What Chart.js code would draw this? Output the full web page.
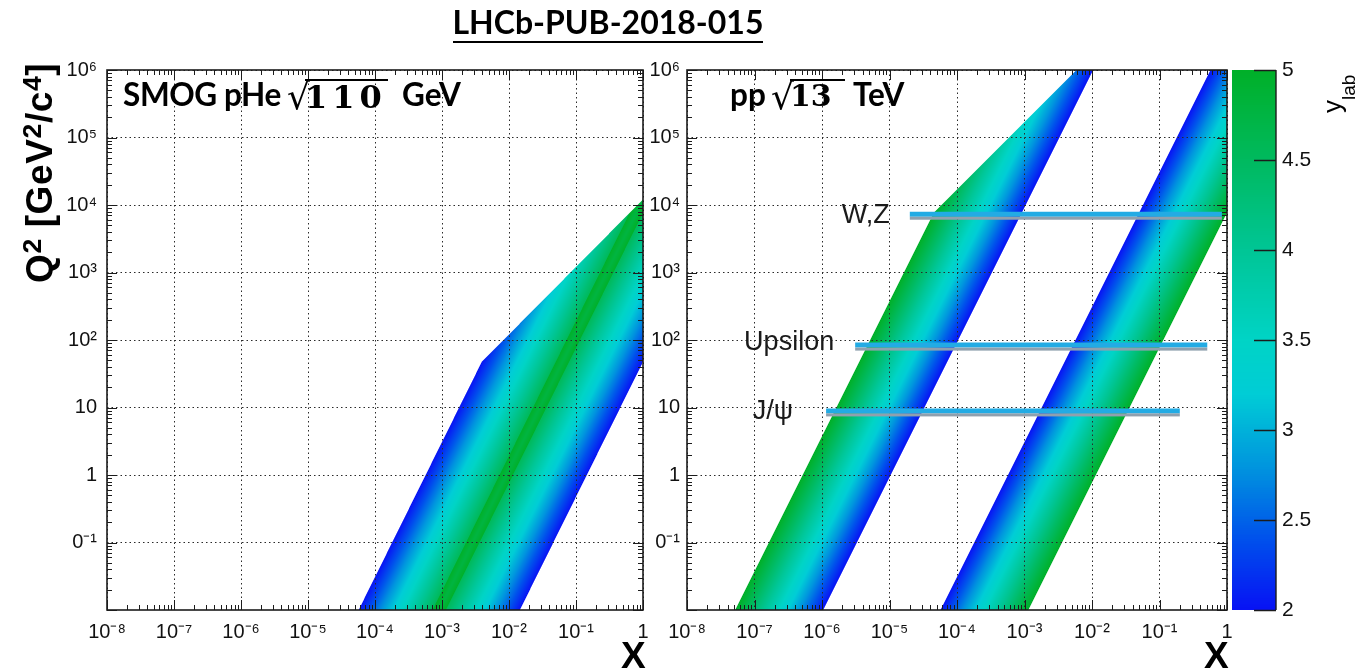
<!DOCTYPE html>
<html><head><meta charset="utf-8">
<script src="https://cdn.jsdelivr.net/npm/chart.js@4.4.1/dist/chart.umd.min.js"></script>
<style>
html,body{margin:0;padding:0;background:#fff;}
#wrap{position:relative;width:1358px;height:669px;overflow:hidden;background:#fff;}
canvas{position:absolute;left:0;top:0;}
.t{position:absolute;white-space:nowrap;line-height:1;color:#000;}
.lb{font-family:Lato,"Open Sans",sans-serif;font-weight:bold;font-size:31.5px;}
.sq{font-family:"DejaVu Sans",sans-serif;font-size:36px;}
.dg{font-family:"DejaVu Serif",serif;font-weight:bold;border-top:2px solid #000;}
.rot{transform-origin:0 0;transform:rotate(-90deg);}
.sup{position:relative;top:-0.42em;font-size:0.72em;}
</style></head><body>
<div id="wrap">
<canvas id="c1" width="1358" height="669"></canvas>
<canvas id="c2" width="1358" height="669"></canvas>
<canvas id="c3" width="1358" height="669"></canvas>

<div class="t" style="left:0;width:1216px;text-align:center;top:5.6px;"><span style="font-family:Lato,sans-serif;font-weight:bold;font-size:32px;border-bottom:2px solid #000;">LHCb-PUB-2018-015</span></div>

<div class="t lb" style="left:123px;top:79px;letter-spacing:-0.4px;">SMOG pHe</div>
<div class="t sq" style="left:287px;top:78.5px;">√</div>
<div class="t dg" style="left:305px;top:79px;font-size:32px;letter-spacing:5px;padding-right:1px;">110</div>
<div class="t lb" style="left:402px;top:79px;">GeV</div>

<div class="t lb" style="left:730px;top:79px;">pp</div>
<div class="t sq" style="left:771px;top:78.5px;">√</div>
<div class="t dg" style="left:790px;top:79px;font-size:30px;padding-right:13px;">13</div>
<div class="t lb" style="left:853px;top:79px;">TeV</div>

<div class="t rot" style="left:21px;top:283px;font-family:'Liberation Sans',Arial,sans-serif;font-weight:bold;font-size:37px;letter-spacing:0.6px;">Q<span class="sup">2</span> [GeV<span class="sup">2</span>/c<span class="sup">4</span>]</div>

<div class="t" style="left:621px;top:637px;font-family:'Liberation Sans',Arial,sans-serif;font-weight:bold;font-size:37px;">X</div>
<div class="t" style="left:1204px;top:637px;font-family:'Liberation Sans',Arial,sans-serif;font-weight:bold;font-size:37px;">X</div>

<div class="t rot" style="left:1318.5px;top:113px;font-family:'Liberation Sans',Arial,sans-serif;font-size:26px;">y<span style="position:relative;top:14px;font-size:19px;">lab</span></div>
</div>
<script>
// ---------------- data ----------------
const panelNames = ['SMOG pHe', 'pp'];
const sqrtS = [110, 13000];            // GeV, from the panel labels
const rapidityShift = [4.77, 0];       // y_lab - y_cm
const yLabRange = [2, 5];              // LHCb acceptance (colour scale)
const xRange = [1e-8, 1];
const q2Range = [1e-2, 1e6];
const xTickValues = [1e-8, 1e-7, 1e-6, 1e-5, 1e-4, 1e-3, 1e-2, 1e-1, 1];
const xTickLabels = ['10⁻⁸', '10⁻⁷', '10⁻⁶', '10⁻⁵', '10⁻⁴', '10⁻³', '10⁻²', '10⁻¹', '1'];
const q2TickValues = [1e-1, 1, 10, 1e2, 1e3, 1e4, 1e5, 1e6];
const q2TickLabels = ['0⁻¹', '1', '10', '10²', '10³', '10⁴', '10⁵', '10⁶'];
const markerNames = ['W,Z', 'Upsilon', 'J/ψ'];
const markerQ2 = [7300, 84, 8.9];
const markerXFrom = [2.0e-5, 3.1e-6, 1.15e-6];
const markerXTo = [0.84, 0.51, 0.20];
const colorbarTicks = [2, 2.5, 3, 3.5, 4, 4.5, 5];
const colorbarLabels = ['2', '2.5', '3', '3.5', '4', '4.5', '5'];

// ---------------- styles ----------------
const paletteStops = [
  [2.0, [8, 18, 245]], [2.4, [0, 82, 236]], [2.8, [0, 150, 222]], [3.2, [0, 205, 214]],
  [3.5, [0, 212, 198]], [4.0, [0, 198, 150]], [4.5, [0, 186, 95]], [5.0, [0, 176, 40]]
];
const labelGap = [20, 21, 33];
const labelDy = [9, 5, 8];
const FONT = '"Liberation Sans", Arial, Helvetica, sans-serif';

const LUT = [];
for (let t = 0; t <= 300; t++) {
  const v = 2 + t / 100;
  let k = 0;
  while (k < paletteStops.length - 2 && v > paletteStops[k + 1][0]) k++;
  const [v0, c0] = paletteStops[k], [v1, c1] = paletteStops[k + 1];
  const f = Math.max(0, Math.min(1, (v - v0) / (v1 - v0)));
  LUT.push([0, 1, 2].map(i => c0[i] + (c1[i] - c0[i]) * f));
}
function palette(v) {
  const t = Math.max(0, Math.min(300, Math.round((v - 2) * 100)));
  return LUT[t];
}

// band (heat map) drawn pixel by pixel through the chart scales
const bandPlugin = {
  id: 'band',
  beforeDraw(chart, args, opts) {
    const p = opts.panel;
    if (p === undefined || p === null) return;
    const a = chart.chartArea, xs = chart.scales.x, ys = chart.scales.y;
    const W = Math.round(a.right - a.left), H = Math.round(a.bottom - a.top);
    const off = document.createElement('canvas'); off.width = W; off.height = H;
    const octx = off.getContext('2d');
    const img = octx.createImageData(W, H); const d = img.data;
    const S = 3;
    const lnX = new Float64Array(W * S), lnQ2 = new Float64Array(H * S);
    for (let i = 0; i < W * S; i++) lnX[i] = Math.log(xs.getValueForPixel(a.left + (i + 0.5) / S));
    for (let j = 0; j < H * S; j++) lnQ2[j] = Math.log(ys.getValueForPixel(a.top + (j + 0.5) / S));
    const lnRs = Math.log(sqrtS[p]), lnS = 2 * lnRs, sh = rapidityShift[p];
    const lo = yLabRange[0], hi = yLabRange[1];
    for (let j = 0; j < H; j++) {
      for (let i = 0; i < W; i++) {
        let r = 0, g = 0, b = 0, n = 0;
        for (let sj = 0; sj < S; sj++) {
          const lq = lnQ2[j * S + sj];
          for (let si = 0; si < S; si++) {
            const lx = lnX[i * S + si];
            if (lq > lx + lnS) continue;        // partner x would exceed 1
            const L = lx + lnRs - 0.5 * lq;
            let yl = -1;
            const y1 = sh + L, y2 = sh - L;
            if (y1 >= lo && y1 <= hi) yl = y1;
            if (y2 >= lo && y2 <= hi && y2 > yl) yl = y2;
            if (yl < 0) continue;
            const c = palette(yl);
            r += c[0]; g += c[1]; b += c[2]; n++;
          }
        }
        if (n) {
          const k = (j * W + i) * 4;
          d[k] = r / n; d[k + 1] = g / n; d[k + 2] = b / n; d[k + 3] = 255 * n / (S * S);
        }
      }
    }
    octx.putImageData(img, 0, 0);
    chart.ctx.drawImage(off, a.left, a.top);
  }
};

// frame + ROOT style inward ticks on all four sides
const axisPlugin = {
  id: 'axisDeco',
  afterDraw(chart, args, opts) {
    if (!opts.on) return;
    const ctx = chart.ctx, a = chart.chartArea, xs = chart.scales.x, ys = chart.scales.y;
    ctx.save();
    ctx.strokeStyle = '#1c1c1c'; ctx.lineWidth = 1;
    ctx.beginPath();
    const e0 = Math.floor(Math.log10(xs.min)), e1 = Math.ceil(Math.log10(xs.max));
    for (let e = e0; e <= e1; e++) for (let k = 1; k < 10; k++) {
      const v = k * Math.pow(10, e);
      if (v < xs.min * 0.999 || v > xs.max * 1.001) continue;
      const px = Math.round(xs.getPixelForValue(v)) + 0.5, len = k === 1 ? 10 : 5;
      ctx.moveTo(px, a.bottom); ctx.lineTo(px, a.bottom - len);
      ctx.moveTo(px, a.top); ctx.lineTo(px, a.top + len);
    }
    const f0 = Math.floor(Math.log10(ys.min)), f1 = Math.ceil(Math.log10(ys.max));
    for (let e = f0; e <= f1; e++) for (let k = 1; k < 10; k++) {
      const v = k * Math.pow(10, e);
      if (v < ys.min * 0.999 || v > ys.max * 1.001) continue;
      const py = Math.round(ys.getPixelForValue(v)) + 0.5, len = k === 1 ? 10 : 5;
      ctx.moveTo(a.left, py); ctx.lineTo(a.left + len, py);
      ctx.moveTo(a.right, py); ctx.lineTo(a.right - len, py);
    }
    ctx.stroke();
    ctx.lineWidth = 1.6;
    ctx.strokeRect(a.left, a.top, a.right - a.left, a.bottom - a.top);
    ctx.restore();
  }
};

// meson mass bars: grey underline + name
const markerPlugin = {
  id: 'markers',
  afterDatasetsDraw(chart, args, opts) {
    if (!opts.on) return;
    const ctx = chart.ctx;
    ctx.save();
    chart.data.datasets.forEach((ds, i) => {
      const m = chart.getDatasetMeta(i);
      const p0 = m.data[0], p1 = m.data[1];
      ctx.fillStyle = '#8fa0ae';
      ctx.fillRect(p0.x, p0.y + 2.5, p1.x - p0.x, 3);
      ctx.font = '27px ' + FONT;
      ctx.fillStyle = '#1a1a1a'; ctx.textAlign = 'right'; ctx.textBaseline = 'alphabetic';
      ctx.fillText(ds.label, p0.x - labelGap[i], p0.y + labelDy[i]);
    });
    ctx.restore();
  }
};

// colour bar
const colorbarPlugin = {
  id: 'cbar',
  beforeDraw(chart, args, opts) {
    if (!opts.on) return;
    const ctx = chart.ctx, a = chart.chartArea, ys = chart.scales.y;
    for (let py = Math.floor(a.top); py < Math.ceil(a.bottom); py++) {
      const c = palette(ys.getValueForPixel(py + 0.5));
      ctx.fillStyle = `rgb(${c[0] | 0},${c[1] | 0},${c[2] | 0})`;
      ctx.fillRect(a.left, py, a.right - a.left, 1);
    }
  },
  afterDraw(chart, args, opts) {
    if (!opts.on) return;
    const ctx = chart.ctx, a = chart.chartArea, ys = chart.scales.y;
    ctx.save();
    ctx.strokeStyle = '#1c1c1c'; ctx.lineWidth = 1.4;
    ctx.beginPath();
    colorbarTicks.forEach(v => {
      const py = Math.round(ys.getPixelForValue(v)) + 0.5;
      ctx.moveTo(a.right - 22, py); ctx.lineTo(a.right, py);
    });
    ctx.moveTo(a.right, a.top); ctx.lineTo(a.right, a.bottom);
    ctx.stroke();
    ctx.restore();
  }
};

function panelScales(yLabelPad) {
  return {
    x: {
      type: 'logarithmic', min: xRange[0], max: xRange[1], position: 'bottom',
      afterBuildTicks: s => { s.ticks = xTickValues.map(v => ({ value: v })); },
      afterFit: s => { s.height = 59; },
      ticks: { callback: (v, i) => xTickLabels[i], autoSkip: false, maxRotation: 0, minRotation: 0,
               font: { family: FONT, size: 20 }, color: '#111', padding: 10 },
      grid: { color: '#2a2a2a', lineWidth: 1, drawTicks: false },
      border: { display: false, dash: [1.5, 3] }
    },
    y: {
      type: 'logarithmic', min: q2Range[0], max: q2Range[1], position: 'left',
      afterBuildTicks: s => { s.ticks = q2TickValues.map(v => ({ value: v })); },
      afterFit: s => { s.width = yLabelPad.width; },
      ticks: { callback: (v, i) => q2TickLabels[i], autoSkip: false,
               font: { family: FONT, size: 20 }, color: '#111', padding: yLabelPad.pad },
      grid: { color: '#2a2a2a', lineWidth: 1, drawTicks: false },
      border: { display: false, dash: [1.5, 3] }
    }
  };
}

const common = { responsive: false, animation: false, devicePixelRatio: 1, events: [] };

new Chart(document.getElementById('c1'), {
  type: 'scatter',
  data: { datasets: [] },
  options: Object.assign({}, common, {
    layout: { padding: { left: 0, right: 1358 - 643, top: 70, bottom: 0 } },
    scales: panelScales({ width: 107, pad: 10 }),
    plugins: { legend: { display: false }, tooltip: { enabled: false },
               band: { panel: 0 }, axisDeco: { on: true }, markers: { on: false }, cbar: { on: false } }
  }),
  plugins: [bandPlugin, axisPlugin]
});

new Chart(document.getElementById('c2'), {
  type: 'scatter',
  data: {
    datasets: markerNames.map((n, i) => ({
      label: n,
      data: [{ x: markerXFrom[i], y: markerQ2[i] }, { x: markerXTo[i], y: markerQ2[i] }],
      showLine: true, borderColor: '#22abe4', borderWidth: 5, pointRadius: 0, borderCapStyle: 'butt'
    }))
  },
  options: Object.assign({}, common, {
    layout: { padding: { left: 647, right: 1358 - 1227, top: 70, bottom: 0 } },
    scales: panelScales({ width: 40, pad: 7 }),
    plugins: { legend: { display: false }, tooltip: { enabled: false },
               band: { panel: 1 }, axisDeco: { on: true }, markers: { on: true }, cbar: { on: false } }
  }),
  plugins: [bandPlugin, axisPlugin, markerPlugin]
});

new Chart(document.getElementById('c3'), {
  type: 'scatter',
  data: { datasets: [] },
  options: Object.assign({}, common, {
    layout: { padding: { left: 1232, right: 1358 - 1276 - 60, top: 70, bottom: 59 } },
    scales: {
      x: { display: false, min: 0, max: 1 },
      y: {
        type: 'linear', position: 'right', min: yLabRange[0], max: yLabRange[1],
        afterBuildTicks: s => { s.ticks = colorbarTicks.map(v => ({ value: v })); },
        afterFit: s => { s.width = 60; },
        ticks: { callback: (v, i) => colorbarLabels[i], font: { family: FONT, size: 21 }, color: '#111', padding: 6 },
        grid: { display: false, drawTicks: false },
        border: { display: false }
      }
    },
    plugins: { legend: { display: false }, tooltip: { enabled: false }, cbar: { on: true } }
  }),
  plugins: [colorbarPlugin]
});
</script>
</body></html>
